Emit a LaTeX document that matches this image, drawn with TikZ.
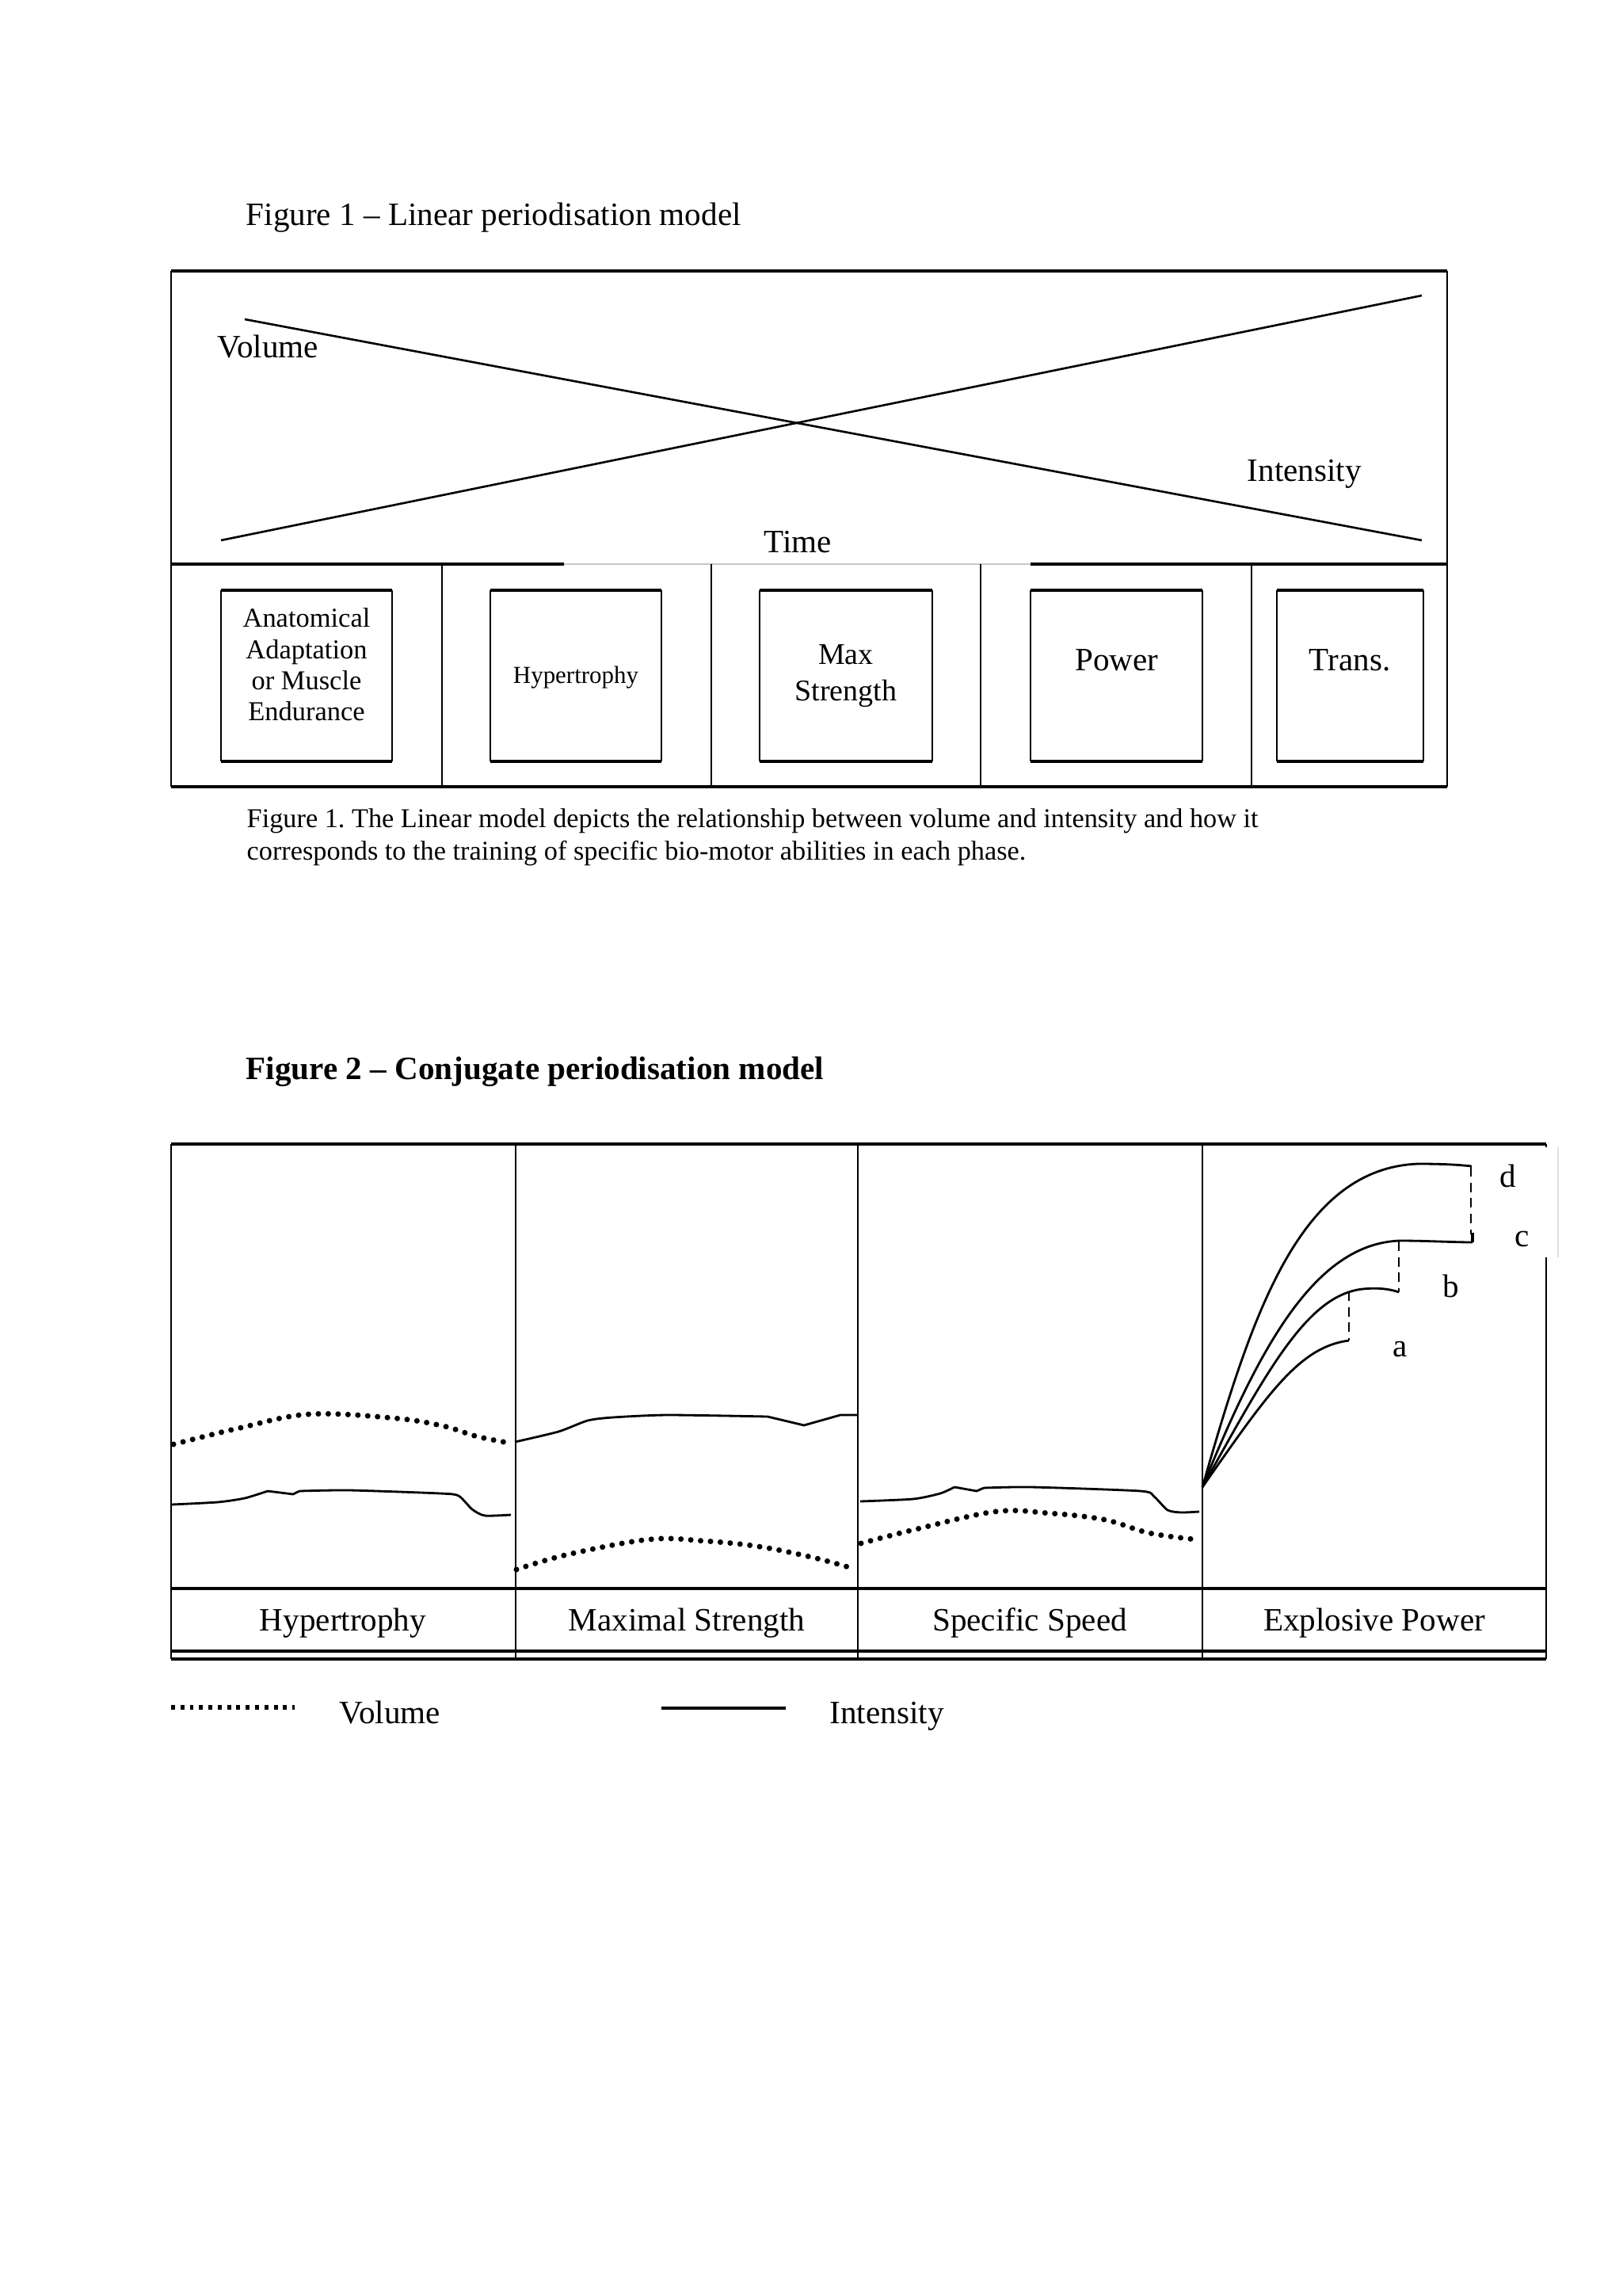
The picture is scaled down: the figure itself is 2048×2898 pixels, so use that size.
\documentclass[tikz,border=0pt]{standalone}
\usepackage{fontspec}
\setmainfont{Liberation Serif}
\frenchspacing
\begin{document}
\begin{tikzpicture}[x=0.01cm,y=-0.01cm,
  txt/.style={inner sep=0pt,font=\fontsize{11.7}{13.5}\selectfont},
  thin/.style={line width=0.6pt},
  frame/.style={line width=0.9pt},
  thick/.style={line width=1.3pt},
  curve/.style={line width=0.8pt},
  vol/.style={line width=2pt,line cap=round,dash pattern=on 0pt off 3.55pt},
  dsh/.style={line width=0.8pt,dash pattern=on 3.4pt off 2.2pt}]
\useasboundingbox (0,0) rectangle (2048,2898);
\fill[white] (0,0) rectangle (2048,2898);

% ---------------- Figure 1 ----------------
\node[txt,anchor=base west] (t1) at (310,285) {Figure 1 -- Linear periodisation model};

% outer frame
\draw[frame] (216,342) -- (1827,342);
\draw[thin] (216,342) -- (216,993) (1827,342) -- (1827,993);
\draw[thick] (216,993) -- (1827,993);
% divider with light gap under "Time"
\draw[thick] (216,712) -- (712,712);
\draw[thick] (1301,712) -- (1827,712);
\draw[line width=0.6pt,black!22] (712,712) -- (1301,712);
% column separators
\foreach \x in {558,898,1238,1580} \draw[thin] (\x,712) -- (\x,993);

% volume and intensity lines
\coordinate (v1) at (309,403);
\coordinate (v2) at (1795,682);
\coordinate (i1) at (279,682);
\coordinate (i2) at (1795,373);
\draw[line width=0.75pt] (v1) -- (v2);
\draw[line width=0.75pt] (i1) -- (i2);
\node[txt,anchor=base west] (lvol) at (274,452) {Volume};
\node[txt,anchor=base west] (lint) at (1574,608) {Intensity};
\node[txt,anchor=base west] (ltime) at (964,698) {Time};

% phase boxes
\foreach \a/\b/\n in {279/495/b1,619/835/b2,959/1177/b3,1301/1518/b4,1612/1797/b5}{
  \draw[thin] (\a,745) -- (\a,961) (\b,745) -- (\b,961);
  \draw[thick] (\a,745) -- (\b,745) (\a,961) -- (\b,961);
  \coordinate (\n) at ({(\a+\b)/2},853);
}
\node[inner sep=0pt,anchor=north,align=center,font=\fontsize{9.8}{11.2}\selectfont] (p1) at (387,767)
  {Anatomical\\Adaptation\\or Muscle\\Endurance};
\node[inner sep=0pt,anchor=base,font=\fontsize{8.8}{10}\selectfont] (p2) at (727,863) {Hypertrophy};
\node[inner sep=0pt,anchor=north,align=center,font=\fontsize{10.8}{13}\selectfont] (p3) at (1068,813)
  {Max\\Strength};
\node[txt,anchor=base] (p4) at (1410,847) {Power};
\node[txt,anchor=base] (p5) at (1704,847) {Trans.};

% caption
\node[inner sep=0pt,anchor=base west,font=\fontsize{9.75}{11}\selectfont] (cap1) at (311,1044)
  {Figure 1. The Linear model depicts the relationship between volume and intensity and how it};
\node[inner sep=0pt,anchor=base west,font=\fontsize{9.75}{11}\selectfont] (cap2) at (311,1085)
  {corresponds to the training of specific bio-motor abilities in each phase.};

% ---------------- Figure 2 ----------------
\node[txt,anchor=base west,font=\fontsize{11.7}{13.5}\selectfont\bfseries] (t2) at (310,1362)
  {Figure 2 -- Conjugate periodisation model};

\draw[thick] (216,1444) -- (1952,1444);
\draw[thick] (216,2005) -- (1952,2005);
\draw[thick] (216,2084) -- (1952,2084);
\draw[thick] (216,2094) -- (1952,2094);
\draw[thin] (216,1444) -- (216,2094);
\foreach \x in {651,1083,1518} \draw[thin] (\x,1444) -- (\x,2094);
\draw[thin] (1952,1444) -- (1952,1448);
\draw[thin] (1952,1587) -- (1952,2094);
\draw[line width=0.5pt,black!12] (1967,1448) -- (1967,1587);

% panel 1 : Hypertrophy
\draw[vol] plot[smooth,tension=0.6] coordinates {(219,1823) (300,1803) (390,1785) (498,1790) (560,1800) (602,1813) (647,1822)};
\draw[curve] plot[smooth,tension=0.4] coordinates {(217,1899) (275,1896) (309,1891) (338,1882)};
\draw[curve] (338,1882) -- (370,1886) -- (378,1882);
\draw[curve] plot[smooth,tension=0.4] coordinates {(378,1882) (441,1881) (556,1885) (579,1888) (596,1905) (612,1913) (645,1912)};

% panel 2 : Maximal strength
\draw[curve] plot[smooth,tension=0.4] coordinates {(650,1820) (705,1807) (742,1793) (774,1789) (843,1786) (969,1788)};
\draw[curve] (969,1788) -- (1015,1799) -- (1061,1786) -- (1082,1786);
\draw[vol] plot[smooth,tension=0.6] coordinates {(652,1981) (717,1962) (820,1943) (889,1945) (958,1952) (1027,1966) (1078,1980)};

% panel 3 : Specific speed
\draw[curve] plot[smooth,tension=0.4] coordinates {(1086,1895) (1153,1892) (1187,1885) (1205,1877)};
\draw[curve] (1205,1877) -- (1233,1882) -- (1242,1878);
\draw[curve] plot[smooth,tension=0.4] coordinates {(1242,1878) (1302,1877) (1440,1882) (1457,1889) (1474,1906) (1491,1909) (1514,1908)};
\draw[vol] plot[smooth,tension=0.6] coordinates {(1087,1948) (1153,1931) (1256,1908) (1325,1910) (1394,1918) (1451,1935) (1509,1943)};

% panel 4 : Explosive power
\coordinate (o) at (1518,1877);
\draw[curve] (o) .. controls (1580,1660) and (1640,1475) .. (1790,1469)
                 .. controls (1820,1469) and (1840,1470) .. (1858,1472);
\draw[curve] (o) .. controls (1590,1700) and (1660,1570) .. (1767,1566)
                 .. controls (1800,1566) and (1835,1568) .. (1859,1568);
\draw[curve] (o) .. controls (1600,1730) and (1650,1635) .. (1720,1627)
                 .. controls (1740,1625) and (1755,1627) .. (1766,1631);
\draw[curve] (o) .. controls (1600,1760) and (1640,1700) .. (1703,1692);
\draw[dsh] (1857,1473) -- (1857,1558);
\draw[line width=1.2pt] (1859,1556) -- (1859,1568);
\draw[dsh] (1766,1567) -- (1766,1631);
\draw[dsh] (1703,1630) -- (1703,1692);
\node[txt,anchor=base] (ld) at (1904,1498) {d};
\node[txt,anchor=base] (lc) at (1922,1573) {c};
\node[txt,anchor=base] (lb) at (1832,1637) {b};
\node[txt,anchor=base] (la) at (1768,1712) {a};

% phase labels
\node[txt,anchor=base] (h1) at (433,2058) {Hypertrophy};
\node[txt,anchor=base] (h2) at (867,2058) {Maximal Strength};
\node[txt,anchor=base] (h3) at (1300,2058) {Specific Speed};
\node[txt,anchor=base] (h4) at (1735,2058) {Explosive Power};

% legend
\coordinate (lv1) at (216,2155);
\coordinate (lv2) at (372,2155);
\coordinate (li1) at (835,2156);
\coordinate (li2) at (992,2156);
\draw[line width=1.7pt,dash pattern=on 1.4pt off 1.95pt] (lv1) -- (lv2);
\draw[line width=0.9pt] (li1) -- (li2);
\node[txt,anchor=base west] (lgv) at (428,2175) {Volume};
\node[txt,anchor=base west] (lgi) at (1047,2175) {Intensity};
\end{tikzpicture}
\end{document}
